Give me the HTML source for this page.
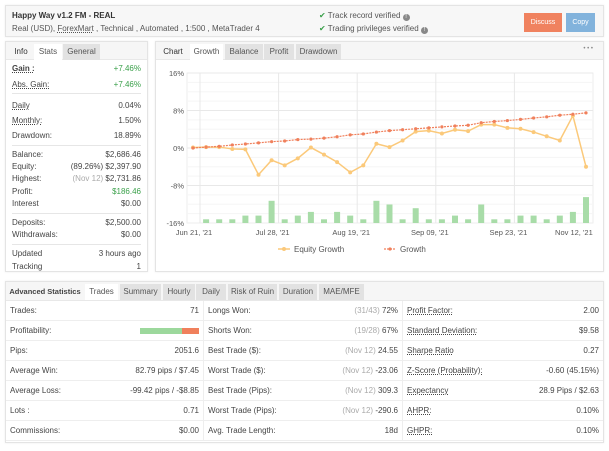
<!DOCTYPE html>
<html><head><meta charset="utf-8">
<style>
*{box-sizing:border-box;margin:0;padding:0}
body{width:609px;height:451px;background:#fff;font-family:"Liberation Sans",sans-serif;font-size:8px;color:#444;position:relative;overflow:hidden}
.abs{position:absolute;white-space:nowrap}
.panel{position:absolute;border:1px solid #e4e4e4;background:#fff;box-shadow:0 0 2px rgba(0,0,0,.08)}
.tabs{position:absolute;left:0;right:0;top:0;height:18px;background:#f6f6f6;border-bottom:1px solid #e8e8e8}
.tab{position:absolute;top:2px;height:16px;line-height:15px;text-align:center;font-size:8px;color:#555;background:#e2e2e2;white-space:nowrap;overflow:hidden}
.tab.active{background:#fff;color:#555}
.tab.plain{background:transparent;color:#333;overflow:visible}
.row{position:absolute;left:6px;right:6px;height:12px;line-height:12px;font-size:8px;white-space:nowrap}
.row .l{position:absolute;left:0}
.row .r{position:absolute;right:0}
.u{text-decoration:underline;text-decoration-style:dotted}
.g{color:#3aa04a}
.m{color:#aaa}
.sep{position:absolute;left:6px;right:6px;height:1px;background:#e6e6e6}
.cell{position:absolute;height:20px;line-height:20px;border-bottom:1px solid #eee;font-size:8px;white-space:nowrap}
.cell .l{position:absolute;left:4px}
.cell .r{position:absolute;right:4px}
</style></head><body>

<div class="panel" style="left:5px;top:5px;width:599px;height:32px;background:#f7f7f7">
  <div class="abs" style="left:6px;top:5px;font-weight:bold;font-size:8px;color:#333">Happy Way v1.2 FM - REAL</div>
  <div class="abs" style="left:6px;top:18px;font-size:8px;color:#555">Real (USD), <span class="u">ForexMart</span> , Technical , Automated , 1:500 , MetaTrader 4</div>
  <div class="abs" style="left:313px;top:5px;font-size:8px;color:#555"><span style="color:#3aa04a">✔</span> Track record verified <span style="display:inline-block;width:7px;height:7px;border-radius:50%;background:#888;color:#fff;font-size:6px;line-height:7px;text-align:center">!</span></div>
  <div class="abs" style="left:313px;top:18px;font-size:8px;color:#555"><span style="color:#3aa04a">✔</span> Trading privileges verified <span style="display:inline-block;width:7px;height:7px;border-radius:50%;background:#888;color:#fff;font-size:6px;line-height:7px;text-align:center">!</span></div>
  <div class="abs" style="left:518px;top:7px;width:38px;height:19px;background:#f0825f;color:#fff;font-size:7px;line-height:19px;text-align:center">Discuss</div>
  <div class="abs" style="left:560px;top:7px;width:29px;height:19px;background:#82b3dc;color:#fff;font-size:7px;line-height:19px;text-align:center">Copy</div>
</div>

<div class="panel" style="left:5px;top:41px;width:143px;height:231px">
  <div class="tabs">
    <div class="tab plain" style="left:2px;width:26px">Info</div>
    <div class="tab active" style="left:28px;width:28px">Stats</div>
    <div class="tab" style="left:57px;width:37px">General</div>
  </div>
  <div class="row" style="top:21px"><span class="l u" style="font-weight:bold">Gain :</span><span class="r g">+7.46%</span></div>
  <div class="row" style="top:37px"><span class="l u">Abs. Gain:</span><span class="r g">+7.46%</span></div>
  <div class="sep" style="top:51px"></div>
  <div class="row" style="top:58px"><span class="l u">Daily</span><span class="r">0.04%</span></div>
  <div class="row" style="top:73px"><span class="l u">Monthly:</span><span class="r">1.50%</span></div>
  <div class="row" style="top:88px"><span class="l">Drawdown:</span><span class="r">18.89%</span></div>
  <div class="sep" style="top:103px"></div>
  <div class="row" style="top:107px"><span class="l">Balance:</span><span class="r">$2,686.46</span></div>
  <div class="row" style="top:119px"><span class="l">Equity:</span><span class="r">(89.26%) $2,397.90</span></div>
  <div class="row" style="top:131px"><span class="l">Highest:</span><span class="r"><span class="m">(Nov 12)</span> $2,731.86</span></div>
  <div class="row" style="top:144px"><span class="l">Profit:</span><span class="r g">$186.46</span></div>
  <div class="row" style="top:156px"><span class="l">Interest</span><span class="r">$0.00</span></div>
  <div class="sep" style="top:171px"></div>
  <div class="row" style="top:175px"><span class="l">Deposits:</span><span class="r">$2,500.00</span></div>
  <div class="row" style="top:187px"><span class="l">Withdrawals:</span><span class="r">$0.00</span></div>
  <div class="sep" style="top:202px"></div>
  <div class="row" style="top:206px"><span class="l">Updated</span><span class="r">3 hours ago</span></div>
  <div class="row" style="top:219px"><span class="l">Tracking</span><span class="r">1</span></div>
</div>

<div class="panel" style="left:155px;top:41px;width:449px;height:231px">
  <div class="tabs">
    <div class="tab plain" style="left:2px;width:30px">Chart</div>
    <div class="tab active" style="left:34px;width:33px">Growth</div>
    <div class="tab" style="left:69px;width:38px">Balance</div>
    <div class="tab" style="left:108px;width:30px">Profit</div>
    <div class="tab" style="left:140px;width:45px">Drawdown</div>
    <div class="abs" style="right:10px;top:4px;font-size:6px;color:#888;letter-spacing:0px">• • •</div>
  </div>
</div>

<svg class="abs" style="left:0;top:0" width="609" height="451" id="chart"></svg>

<div class="panel" style="left:5px;top:281px;width:599px;height:162px">
  <div class="tabs" style="height:19px">
    <div class="tab plain" style="left:3px;width:72px;font-weight:bold;color:#444;font-size:7.5px">Advanced Statistics</div>
    <div class="tab active" style="left:79px;width:33px">Trades</div>
    <div class="tab" style="left:114px;width:41px">Summary</div>
    <div class="tab" style="left:157px;width:32px">Hourly</div>
    <div class="tab" style="left:190px;width:30px">Daily</div>
    <div class="tab" style="left:222px;width:49px">Risk of Ruin</div>
    <div class="tab" style="left:273px;width:38px">Duration</div>
    <div class="tab" style="left:313px;width:45px">MAE/MFE</div>
  </div>
  <div id="tbl"></div>
</div>

<script>
const col1=[["Trades:","71"],["Profitability:","BAR"],["Pips:","2051.6"],["Average Win:","82.79 pips / $7.45"],["Average Loss:","-99.42 pips / -$8.85"],["Lots :","0.71"],["Commissions:","$0.00"]];
const col2=[["Longs Won:","(31/43)","72%"],["Shorts Won:","(19/28)","67%"],["Best Trade ($):","(Nov 12)","24.55"],["Worst Trade ($):","(Nov 12)","-23.06"],["Best Trade (Pips):","(Nov 12)","309.3"],["Worst Trade (Pips):","(Nov 12)","-290.6"],["Avg. Trade Length:","","18d"]];
const col3=[["Profit Factor:","2.00"],["Standard Deviation:","$9.58"],["Sharpe Ratio","0.27"],["Z-Score (Probability):","-0.60 (45.15%)"],["Expectancy","28.9 Pips / $2.63"],["AHPR:","0.10%"],["GHPR:","0.10%"]];
const tbl=document.getElementById('tbl');
let h='';
for(let i=0;i<7;i++){
  const t=19+i*20;
  const v1=col1[i][1]==="BAR"?'<span style="display:inline-block;width:42px;height:6px;background:#9cd89c;vertical-align:middle"></span><span style="display:inline-block;width:17px;height:6px;background:#f0805c;vertical-align:middle"></span>':col1[i][1];
  h+=`<div class="cell" style="left:0;width:198px;top:${t}px;border-right:1px solid #eee"><span class="l">${col1[i][0]}</span><span class="r">${v1}</span></div>`;
  h+=`<div class="cell" style="left:198px;width:199px;top:${t}px;border-right:1px solid #eee"><span class="l">${col2[i][0]}</span><span class="r"><span class="m">${col2[i][1]}</span> ${col2[i][2]}</span></div>`;
  h+=`<div class="cell" style="left:397px;width:200px;top:${t}px"><span class="l u">${col3[i][0]}</span><span class="r">${col3[i][1]}</span></div>`;
}
tbl.innerHTML=h;
</script>

<script>
const growth=[0,0.2,0.35,0.65,0.85,1.1,1.35,1.5,1.8,1.9,2.1,2.4,2.8,3.0,3.4,3.7,3.9,4.1,4.3,4.5,4.7,4.85,5.4,5.65,5.85,6.1,6.4,6.65,7.0,7.2,7.5];
const equity=[0.1,0.2,0.2,-0.2,-0.3,-5.7,-2.6,-3.7,-2.2,0.1,-1.4,-3.0,-5.2,-3.7,0.9,0.2,1.6,3.5,3.7,3.1,3.9,3.6,5.0,5.0,4.3,4.1,3.4,2.5,1.6,6.9,-4.0];
const trades=[null,1,1,1,2,2,6,1,2,3,1,3,2,1,6,5,1,4,1,1,2,1,5,1,1,2,2,1,2,3,7];
const yTicks=[16,8,0,-8,-16];
const xTickIdx=[0,6,12,18,24,29];
const xTickLabels=["Jun 21, '21","Jul 28, '21","Aug 19, '21","Sep 09, '21","Sep 23, '21","Nov 12, '21"];

const svg=document.getElementById('chart');
const NS='http://www.w3.org/2000/svg';
const L=187,R=593,T=73,B=223;
const x=i=>193+i*(586-193)/30;
const y=v=>B-(v+16)/32*(B-T);
const barH=v=>v*3.7;
function mk(tag,attrs){const e=document.createElementNS(NS,tag);for(const k in attrs)e.setAttribute(k,attrs[k]);svg.appendChild(e);return e;}

const bg=mk('rect',{x:L,y:T,width:R-L,height:B-T,fill:'#fff',stroke:'#eee'});


for(let k=0;k<16;k++){const gy=T+k*(B-T)/16;const g=mk('line',{x1:L,x2:R,y1:gy,y2:gy,stroke:k%4===0?'#e8e8e8':'#f5f5f5','stroke-width':1});

}
xTickIdx.forEach((ix,k)=>{
  const vx=x(ix)+(k<5?7:0);
  if(k<5){const gl=mk('line',{x1:vx,x2:vx,y1:T,y2:B,stroke:'#e8e8e8'});
  
  }
  const t=mk('text',{x:x(ix)+1,y:235,'text-anchor':'middle','font-size':7.5,fill:'#555','font-family':'Liberation Sans'});
  t.textContent=xTickLabels[k];
  
  
});
yTicks.forEach(v=>{
  const t=mk('text',{x:184,y:y(v)+3,'text-anchor':'end','font-size':7.5,fill:'#555','font-family':'Liberation Sans'});
  t.textContent=v+'%';
  
  
});
trades.forEach((v,i)=>{
  if(v==null)return;
  const r=mk('rect',{x:x(i)-3,y:B-barH(v),width:6,height:barH(v),fill:'#a8dca8'});
  
  
});
const eq=mk('polyline',{points:equity.map((v,i)=>x(i)+','+y(v)).join(' '),fill:'none',stroke:'#fbc97a','stroke-width':1.5});


equity.forEach((v,i)=>{const c=mk('circle',{cx:x(i),cy:y(v),r:2,fill:'#fbc97a'});

});
const gr=mk('polyline',{points:growth.map((v,i)=>x(i)+','+y(v)).join(' '),fill:'none',stroke:'#f0805c','stroke-width':1.2,'stroke-dasharray':'2,1'});


growth.forEach((v,i)=>{const c=mk('circle',{cx:x(i),cy:y(v),r:1.6,fill:'#f0805c'});

});
const l1=mk('line',{x1:278,x2:290,y1:249,y2:249,stroke:'#fbc97a','stroke-width':1.5});


const lc1=mk('circle',{cx:284,cy:249,r:2,fill:'#fbc97a'});


const lt1=mk('text',{x:294,y:252,'font-size':8,fill:'#555','font-family':'Liberation Sans'});lt1.textContent='Equity Growth';


const l2=mk('line',{x1:384,x2:396,y1:249,y2:249,stroke:'#f0805c','stroke-width':1.2,'stroke-dasharray':'2,1'});


const lc2=mk('circle',{cx:390,cy:249,r:1.6,fill:'#f0805c'});


const lt2=mk('text',{x:400,y:252,'font-size':8,fill:'#555','font-family':'Liberation Sans'});lt2.textContent='Growth';


</script>
</body></html>
